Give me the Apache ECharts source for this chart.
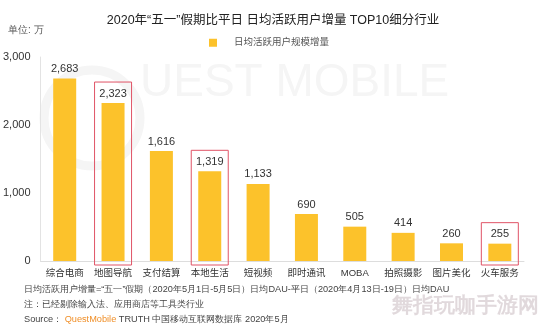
<!DOCTYPE html>
<html><head><meta charset="utf-8">
<script src="https://cdn.jsdelivr.net/npm/echarts@6/dist/echarts.min.js"></script>
<style>html,body{margin:0;padding:0;background:#fff}#c{width:546px;height:327px}</style>
</head><body><div id="c"></div>
<script>
const categories = ['综合电商','地图导航','支付结算','本地生活','短视频','即时通讯','MOBA','拍照摄影','图片美化','火车服务'];
const values = [2683,2323,1616,1319,1133,690,505,414,260,255];
const highlighted = ['地图导航','本地生活','火车服务'];
const yTicks = [0,1000,2000,3000];
const seriesName = '日均活跃用户规模增量';
const titleText = '2020年“五一”假期比平日 日均活跃用户增量 TOP10细分行业';
const unitText = '单位: 万';
const note1 = '日均活跃用户增量=“五一”假期（2020年5月1日-5月5日）日均DAU-平日（2020年4月13日-19日）日均DAU';
const note2 = '注：已经剔除输入法、应用商店等工具类行业';

const FONT = '"Liberation Sans", "Noto Sans CJK SC", sans-serif';
const chart = echarts.init(document.getElementById('c'));
const hlData = categories.map((c,i)=> highlighted.includes(c) ? [i, values[i]] : null).filter(Boolean);

chart.setOption({
  animation:false,
  textStyle:{fontFamily:FONT},
  title:{text:titleText,left:'center',top:9,textStyle:{fontSize:12.5,fontWeight:'normal',color:'#222',fontFamily:FONT}},
  legend:{data:[{name:seriesName,icon:'rect'}],left:204,top:33,itemWidth:8,itemHeight:8,
    textStyle:{fontSize:9.5,color:'#555',padding:[0,0,0,12]}},
  graphic:[
    {type:'circle',shape:{cx:92,cy:118,r:48},style:{fill:'none',stroke:'#f5f5f5',lineWidth:9},z:-10,silent:true},
    {type:'text',left:140,top:60,style:{text:'UEST MOBILE',fontSize:46,fill:'#f5f5f5',fontFamily:'"Liberation Sans", sans-serif'},z:-10,silent:true},
    {type:'text',left:8,top:25,style:{text:unitText,fontSize:10,fill:'#555'}},
    {type:'text',left:24,top:285,style:{text:note1,fontSize:9.2,fill:'#444'}},
    {type:'text',left:24,top:300,style:{text:note2,fontSize:9.2,fill:'#444'}},
    {type:'text',left:24,top:315,style:{text:'{a|Source： }{b|QuestMobile}{a| TRUTH 中国移动互联网数据库 2020年5月}',
      rich:{a:{fontSize:9.2,fill:'#444'},b:{fontSize:9.2,fill:'#F0902A'}}}},
    {type:'text',right:7,top:296,style:{text:'舞指玩咖手游网',fontSize:21,fontWeight:'bold',fill:'rgba(200,185,192,0.55)'}}
  ],
  grid:{left:40,right:22,top:57,bottom:66},
  xAxis:{type:'category',data:categories,axisTick:{show:false},
    axisLine:{lineStyle:{color:'#ddd'}},
    axisLabel:{fontSize:9.5,color:'#333',margin:8,interval:0}},
  yAxis:{type:'value',min:yTicks[0],max:yTicks[yTicks.length-1],interval:1000,
    axisLine:{show:true,lineStyle:{color:'#e3e3e3'}},axisTick:{show:false},splitLine:{show:false},
    axisLabel:{fontSize:11,color:'#333',margin:10,formatter:v=>v.toLocaleString('en-US')}},
  series:[
    {name:seriesName,type:'bar',data:values,barWidth:23,itemStyle:{color:'#FCC22B'},
      label:{show:true,position:'top',distance:4,fontSize:11,color:'#333',formatter:p=>p.value.toLocaleString('en-US')}},
    {type:'custom',data:hlData,silent:true,z:5,
      renderItem:(params,api)=>{
        const top = api.coord([api.value(0), api.value(1)]);
        const base = api.coord([api.value(0), 0]);
        return {type:'rect',shape:{x:top[0]-18.5,y:top[1]-21,width:37,height:base[1]-top[1]+25},
          style:{fill:'none',stroke:'#E05366',lineWidth:1}};
      }}
  ]
});
</script></body></html>
